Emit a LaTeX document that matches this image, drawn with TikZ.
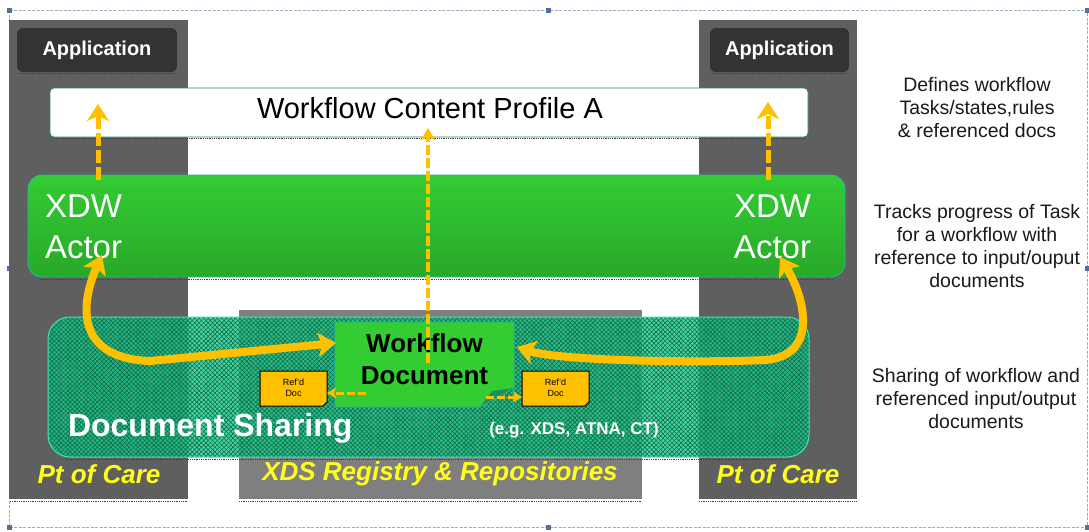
\documentclass[tikz,border=0pt]{standalone}
\usepackage{fontspec}
\setmainfont{Liberation Sans}
\usetikzlibrary{arrows.meta,patterns.meta}
\newcommand{\myfs}[2]{\fontsize{#1}{#2}\selectfont}
\definecolor{colgray}{HTML}{5F5F5F}
\definecolor{midgray}{HTML}{7F7F7F}
\definecolor{appfill}{HTML}{333333}
\definecolor{xdwtop}{HTML}{33CC33}
\definecolor{xdwbot}{HTML}{29A829}
\definecolor{xdwedge}{HTML}{2AB89A}
\definecolor{arrowy}{HTML}{FFC000}
\definecolor{bandfill}{HTML}{1CC98C}
\definecolor{bandline}{HTML}{0B6E48}
\definecolor{bandedge}{HTML}{45E0B5}
\definecolor{ptyellow}{HTML}{FFFF1A}
\definecolor{wdgreen}{HTML}{33CC33}
\definecolor{wdfold}{HTML}{1E8E5E}
\definecolor{wcpedge}{HTML}{2A8A7A}
\definecolor{framecol}{HTML}{9AAABF}
\definecolor{handlecol}{HTML}{4F71A0}
\definecolor{shadowcol}{HTML}{404040}
\definecolor{sidetext}{HTML}{1A1A1A}
\begin{document}
\begin{tikzpicture}[x=1pt,y=-1pt,
  every node/.style={inner sep=0pt,outer sep=0pt},
  appbox/.style={fill=appfill,rounded corners=6pt,minimum height=44pt,text=white,font=\myfs{20}{24}\bfseries},
  shadowline/.style={draw=shadowcol,densely dotted,line width=0.8pt},
  dasharrow/.style={draw=arrowy,line width=5pt,dash pattern=on 13pt off 4pt,-{Stealth[length=17pt,width=22pt,inset=5pt]}},
  thindash/.style={draw=arrowy,line width=3.5pt,dash pattern=on 10pt off 3pt,-{Stealth[length=12pt,width=14pt,inset=3pt]}},
  smalldash/.style={draw=arrowy,line width=3pt,dash pattern=on 8pt off 3pt,-{Stealth[length=9pt,width=11pt,inset=2pt]}},
  curvearrow/.style={draw=arrowy,line width=8pt,{Stealth[length=18pt,width=24pt,inset=4pt]}-{Stealth[length=18pt,width=24pt,inset=4pt]}},
  reftext/.style={font=\myfs{9}{11},align=center,text=black},
  sidenote/.style={font=\myfs{19.5}{23},align=center,text=sidetext},
  ptcare/.style={font=\myfs{26}{30}\bfseries\itshape,text=ptyellow},
  xdwtext/.style={font=\myfs{33}{40},text=white}
]
\useasboundingbox (0,0) rectangle (1089,531);
\fill[white] (0,0) rectangle (1089,531);

% selection frame
\draw[framecol,line width=0.7pt,dash pattern=on 3pt off 1.5pt] (9,10) rectangle (1087,527);
\foreach \hx/\hy in {9/10,548/10,1087/10,9/268,1087/268,9/527,548/527,1087/527}
  \fill[handlecol] (\hx-2.5,\hy-2.5) rectangle (\hx+2.5,\hy+2.5);

% columns
\fill[colgray] (9,20) rectangle (188,499);
\fill[colgray] (699,20) rectangle (857,499);
\fill[midgray] (239,310) rectangle (642,499);
\draw[shadowline] (10,501) -- (188,501);
\draw[shadowline] (699,501) -- (857,501);
\draw[shadowline] (239,501) -- (642,501);

% application boxes
\node[appbox,minimum width=160pt] (appL) at (97,50) {Application};
\node[appbox,minimum width=139pt] (appR) at (779.5,50) {Application};
\draw[shadowline] (19,73) -- (175,73);
\draw[shadowline] (712,73) -- (847,73);

% workflow content profile
\node[fill=white,draw=wcpedge,line width=0.8pt,rounded corners=4pt,
      minimum width=758pt,minimum height=49pt] (wcp) at (429,112.5) {};
\node[font=\myfs{29}{34},text=black] (wcpt) at (430,108) {Workflow Content Profile A};
\draw[shadowline] (52,138) -- (806,138);

% XDW actor band
\node[top color=xdwtop,bottom color=xdwbot,draw=xdwedge,line width=0.8pt,rounded corners=14pt,
      minimum width=817pt,minimum height=102pt] (xdw) at (436.5,226) {};
\draw[shadowline] (40,279) -- (833,279);
\node[xdwtext,anchor=base west] (xdwL1) at (45,217) {XDW};
\node[xdwtext,anchor=base west] (xdwL2) at (45,258) {Actor};
\node[xdwtext,anchor=base east] (xdwR1) at (811,217) {XDW};
\node[xdwtext,anchor=base east] (xdwR2) at (811,258) {Actor};

% document sharing band
\fill[bandfill,fill opacity=0.8,rounded corners=22pt] (48,317) rectangle (809,457);
\fill[pattern={Lines[angle=45,distance=3.2pt,line width=0.6pt]},pattern color=bandline,rounded corners=22pt] (48,317) rectangle (809,457);
\fill[pattern={Lines[angle=-45,distance=3.2pt,line width=0.6pt]},pattern color=bandline,rounded corners=22pt] (48,317) rectangle (809,457);
\draw[bandedge,line width=1pt,rounded corners=22pt] (48,317) rectangle (809,457);
\draw[shadowline] (66,459) -- (790,459);
\node (share) at (428.5,387) {};
\node[font=\myfs{32}{36}\bfseries,text=white,anchor=base west] (sharet) at (68,436) {Document Sharing};
\node[font=\myfs{17}{20}\bfseries,text=white] (eg) at (574,430) {(e.g. XDS, ATNA, CT)};

% workflow document
\fill[wdgreen] (335,322) -- (514,322) -- (514,388) -- (480,407) -- (335,407) -- cycle;
\fill[wdfold] (514,388) -- (492,391) -- (480,407) -- cycle;
\draw[xdwedge,line width=0.6pt] (335,322) -- (514,322) -- (514,388) -- (480,407) -- (335,407) -- cycle;
\node[font=\myfs{26}{32}\bfseries,align=center,text=black] (wd) at (424.5,359) {Workflow\\Document};

% referenced docs
\fill[arrowy,draw=black,line width=1pt] (260,371) -- (327,371) -- (327,402) -- (323,406) -- (260,406) -- cycle;
\fill[arrowy,draw=black,line width=1pt] (522,371) -- (589,371) -- (589,402) -- (585,406) -- (522,406) -- cycle;
\node[reftext] (rdL) at (293.5,388) {Ref'd\\Doc};
\node[reftext] (rdR) at (555.5,388) {Ref'd\\Doc};
\coordinate (rdLe) at (327,393);
\coordinate (rdRw) at (522,397);

% arrow end points
\coordinate (laS) at (98,180);
\coordinate (laT) at (98,104);
\coordinate (raS) at (768,180);
\coordinate (raT) at (768,102);
\coordinate (maS) at (428,363);
\coordinate (maT) at (428,128);
\coordinate (wdL) at (336,343);
\coordinate (wdR) at (517,347);
\coordinate (actL) at (102,255);
\coordinate (actR) at (780,257);
\coordinate (wdLo) at (366,393);
\coordinate (wdRo) at (486,397);

% arrows
\draw[dasharrow] (laS) -- (laT);
\draw[dasharrow] (raS) -- (raT);
\draw[thindash] (maS) -- (maT);
\draw[curvearrow] (actL) .. controls (82,300) and (72,358) .. (150,361) -- (wdL);
\draw[curvearrow] (wdR) .. controls (560,361) and (700,363) .. (765,360) .. controls (818,356) and (806,300) .. (actR);
\draw[smalldash] (wdLo) -- (rdLe);
\draw[smalldash] (wdRo) -- (rdRw);

% bottom labels
\node[ptcare] (ptL) at (99,474) {Pt of Care};
\node[ptcare] (ptR) at (778,474) {Pt of Care};
\node[ptcare] (xds) at (440,474) {XDS Registry \& Repositories};

% side notes
\node[sidenote] (n1) at (977,108) {Defines workflow\\Tasks/states,rules\\\& referenced docs};
\node[sidenote] (n2) at (977,246) {Tracks progress of Task\\for a workflow with\\reference to input/ouput\\documents};
\node[sidenote] (n3) at (976,399) {Sharing of workflow and\\referenced input/output\\documents};
\end{tikzpicture}
\end{document}
